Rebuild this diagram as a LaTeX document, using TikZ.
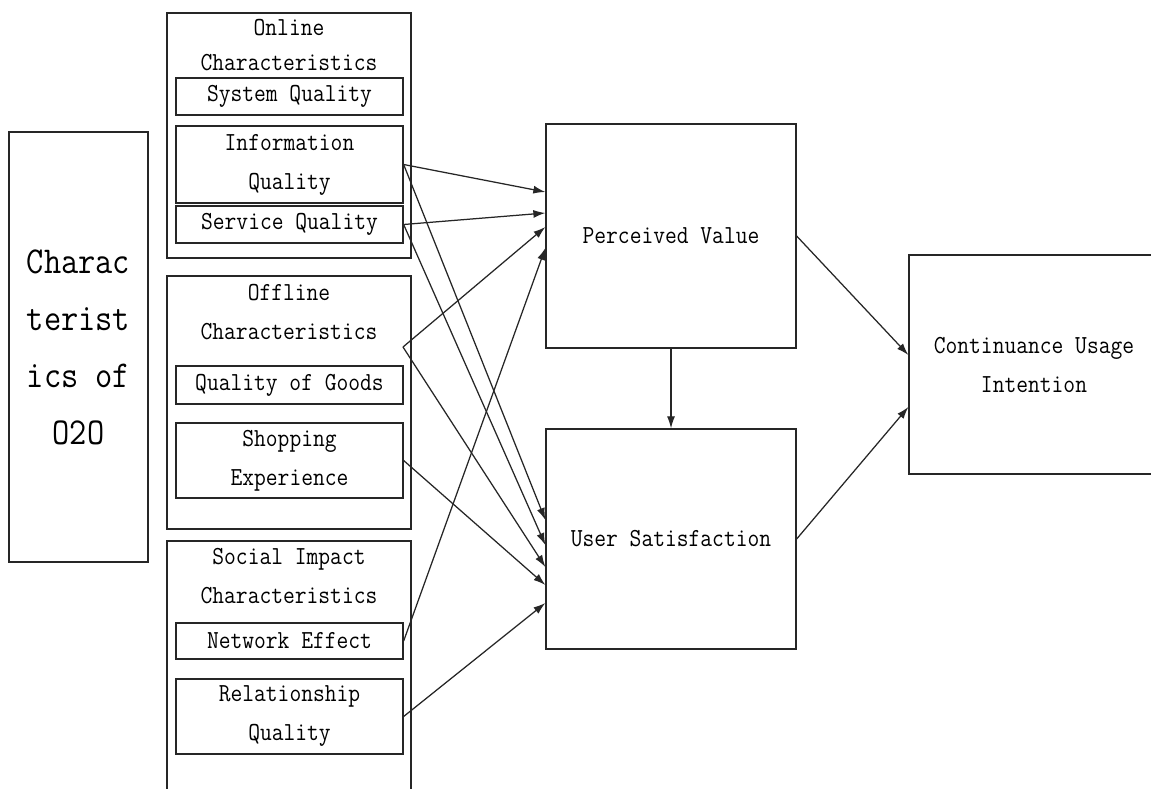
\documentclass[tikz,border=0pt]{standalone}
\usepackage{fontspec}
\newfontfamily\dfont[FakeStretch=0.88]{Latin Modern Mono}
\usetikzlibrary{arrows.meta}
\begin{document}
\begin{tikzpicture}[x=1pt,y=-1pt,
  box/.style={draw=black!85, line width=1.3pt, rectangle, inner sep=0pt},
  txt/.style={font=\dfont\fontsize{26}{39}\selectfont, align=center, inner sep=0pt},
  bigtxt/.style={font=\dfont\fontsize{38}{57}\selectfont, align=center, inner sep=0pt},
  arr/.style={draw=black!85, line width=1.25pt, -{Latex[length=12pt,width=8pt]}}]
\useasboundingbox (0,0) rectangle (1151,789);
\fill[white] (0,0) rectangle (1151,789);
\clip (0,0) rectangle (1151,789);
% left box
\node[box, bigtxt, minimum width=139pt, minimum height=430pt] (o2o) at (78.5,347) {Charac\\terist\\ics of\\O2O};
% online group
\node[box, minimum width=244pt, minimum height=245pt] (online) at (289,135.5) {};
\node[txt, font=\dfont\fontsize{26}{35}\selectfont] (ontitle) at (289,45) {Online\\Characteristics};
\node[box, txt, minimum width=227pt, minimum height=37pt] (sysq) at (289.5,96.5) {System Quality};
\node[box, txt, minimum width=227pt, minimum height=77pt] (infoq) at (289.5,164.5) {Information\\Quality};
\node[box, txt, minimum width=227pt, minimum height=37pt] (servq) at (289.5,224.5) {Service Quality};
% offline group
\node[box, minimum width=244pt, minimum height=253pt] (offline) at (289,402.5) {};
\node[txt] (offtitle) at (289,312) {Offline\\Characteristics};
\node[box, txt, minimum width=227pt, minimum height=38pt] (goods) at (289.5,385) {Quality of Goods};
\node[box, txt, minimum width=227pt, minimum height=75pt] (shop) at (289.5,460.5) {Shopping\\Experience};
% social group
\node[box, minimum width=244pt, minimum height=269pt] (social) at (289,675.5) {};
\node[txt] (soctitle) at (289,576) {Social Impact\\Characteristics};
\node[box, txt, minimum width=227pt, minimum height=36pt] (netw) at (289.5,641) {Network Effect};
\node[box, txt, minimum width=227pt, minimum height=75pt] (rel) at (289.5,716.5) {Relationship\\Quality};
% outcome boxes
\node[box, txt, minimum width=250pt, minimum height=224pt] (pv) at (671,236) {Perceived Value};
\node[box, txt, minimum width=250pt, minimum height=220pt] (us) at (671,539) {User Satisfaction};
\node[box, txt, minimum width=250pt, minimum height=219pt] (cui) at (1034,364.5) {Continuance Usage\\Intention};
% arrows
\coordinate (offpt) at (403,347);
\draw[arr] (infoq.east) -- (pv.west |- 0,192);
\draw[arr] (servq.east) -- (pv.west |- 0,213);
\draw[arr] (offpt) -- (pv.west |- 0,227);
\draw[arr] (netw.east) -- (pv.west |- 0,248);
\draw[arr] (infoq.east) -- (us.west |- 0,520);
\draw[arr] (servq.east) -- (us.west |- 0,545);
\draw[arr] (offpt) -- (us.west |- 0,567);
\draw[arr] (shop.east) -- (us.west |- 0,585);
\draw[arr] (rel.east) -- (us.west |- 0,603);
\draw[arr] (pv.south) -- (us.north);
\draw[arr] (pv.east) -- (cui.west |- 0,355);
\draw[arr] (us.east) -- (cui.west |- 0,407);
\end{tikzpicture}
\end{document}
